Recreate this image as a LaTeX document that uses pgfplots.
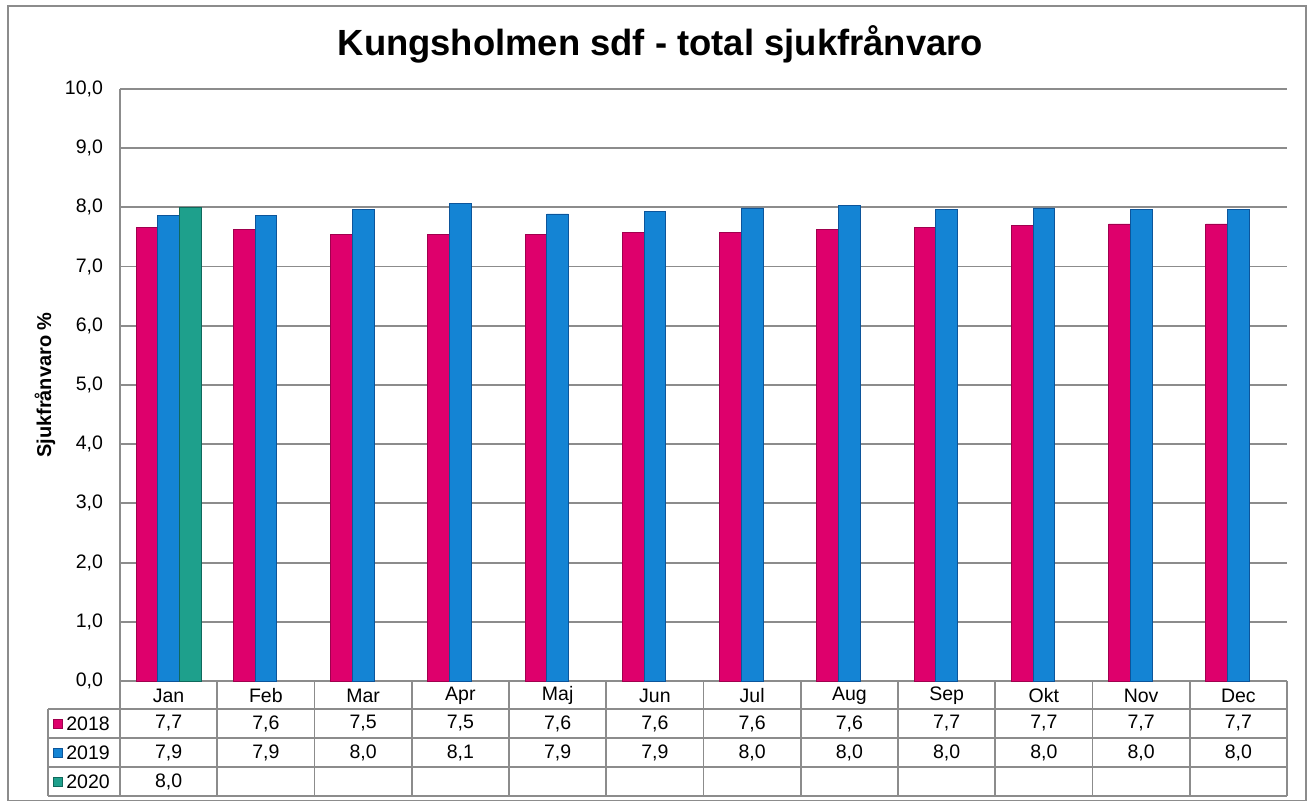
\documentclass[border=0pt]{standalone}
\usepackage{pgfplots}
\pgfplotsset{compat=1.18}
\usepackage{fontspec}
\setmainfont{Liberation Sans}
\definecolor{mag}{RGB}{222,0,108}
\definecolor{magdark}{RGB}{160,0,78}
\definecolor{blu}{RGB}{20,132,212}
\definecolor{bludark}{RGB}{12,85,155}
\definecolor{tea}{RGB}{30,160,140}
\definecolor{teadark}{RGB}{15,105,92}
\definecolor{gridgray}{RGB}{140,140,140}
\begin{document}
\begin{tikzpicture}
\begin{scope}[x=0.5pt,y=-0.5pt]
\useasboundingbox (0,0) rectangle (1316,801);
\draw[gridgray, line width=0.8pt] (8,6) rectangle (1306,801);
\end{scope}
\begin{axis}[
  at={(60pt,-340.5pt)}, anchor=south west,
  scale only axis, width=583.5pt, height=296pt,
  xmin=-0.5, xmax=11.5, ymin=0, ymax=10,
  ytick={0,1,...,10}, xtick=\empty,
  axis lines*=left,
  axis line style={gridgray, line width=0.9pt},
  ymajorgrids, grid style={gridgray, line width=0.9pt},
  major tick length=0pt,
  ybar=0pt, bar width=10.85pt,
  yticklabel style={font=\fontsize{9.75}{11}\selectfont, xshift=-5pt,
    /pgf/number format/.cd, fixed, fixed zerofill, precision=1, use comma, assume math mode=true},
  ylabel={Sjukfrånvaro \%},
  ylabel style={font=\bfseries\fontsize{10}{12}\selectfont, at={(axis description cs:-0.0643,0.5)}, anchor=center},
  title={Kungsholmen sdf - total sjukfrånvaro},
  title style={font=\bfseries\fontsize{18.2}{21}\selectfont, at={(axis description cs:0.463,1.055)}, anchor=center, yshift=0pt},
]
\addplot[fill=mag, draw=magdark, line width=0.4pt] coordinates {
(0,7.66) (1,7.62) (2,7.54) (3,7.54) (4,7.55) (5,7.57) (6,7.57) (7,7.62) (8,7.66) (9,7.70) (10,7.72) (11,7.72)};
\addplot[fill=blu, draw=bludark, line width=0.4pt] coordinates {
(0,7.86) (1,7.87) (2,7.96) (3,8.06) (4,7.89) (5,7.93) (6,7.99) (7,8.03) (8,7.96) (9,7.99) (10,7.96) (11,7.96)};
\addplot[fill=tea, draw=teadark, line width=0.4pt] coordinates {
(0,8.00)};
\end{axis}
\begin{scope}[x=0.5pt,y=-0.5pt]
% table grid
\foreach \yy in {709,738,767,796} \draw[gridgray, line width=0.8pt] (48,\yy) -- (1287,\yy);
\draw[gridgray, line width=0.8pt] (48,709) -- (48,796);
\foreach \i in {0,...,12} \draw[gridgray, line width=0.8pt] ({120+97.25*\i},681) -- ({120+97.25*\i},796);
% header
\foreach \m [count=\i from 0] in {Jan,Feb,Mar,Apr,Maj,Jun,Jul,Aug,Sep,Okt,Nov,Dec}
  \node[font=\fontsize{9.75}{11}\selectfont] at ({120+97.25*(\i+0.5)},695.5) {\m};
\foreach \v [count=\i from 0] in {{7,7},{7,6},{7,5},{7,5},{7,6},{7,6},{7,6},{7,6},{7,7},{7,7},{7,7},{7,7}}
  \node[font=\fontsize{9.75}{11}\selectfont] at ({120+97.25*(\i+0.5)},723.5) {\v};
\foreach \v [count=\i from 0] in {{7,9},{7,9},{8,0},{8,1},{7,9},{7,9},{8,0},{8,0},{8,0},{8,0},{8,0},{8,0}}
  \node[font=\fontsize{9.75}{11}\selectfont] at ({120+97.25*(\i+0.5)},752.5) {\v};
\node[font=\fontsize{9.75}{11}\selectfont] at ({120+97.25*0.5},781.5) {8,0};
% legend keys
\filldraw[fill=mag, draw=magdark, line width=0.4pt] (53,719) rectangle (62,728);
\filldraw[fill=blu, draw=bludark, line width=0.4pt] (53,748) rectangle (62,757);
\filldraw[fill=tea, draw=teadark, line width=0.4pt] (53,777) rectangle (62,786);
\node[font=\fontsize{9.75}{11}\selectfont, anchor=west, inner sep=0pt] at (66,723.5) {2018};
\node[font=\fontsize{9.75}{11}\selectfont, anchor=west, inner sep=0pt] at (66,752.5) {2019};
\node[font=\fontsize{9.75}{11}\selectfont, anchor=west, inner sep=0pt] at (66,781.5) {2020};
\end{scope}
\end{tikzpicture}
\end{document}
